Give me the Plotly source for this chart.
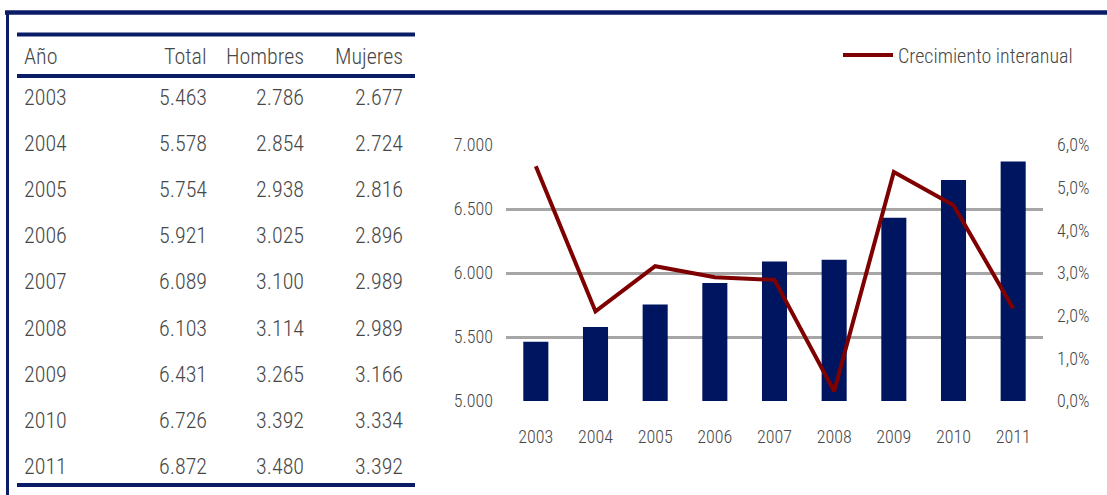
import plotly.graph_objects as go

# ---- data ----
years = ["2003", "2004", "2005", "2006", "2007", "2008", "2009", "2010", "2011"]
total = [5463, 5578, 5754, 5921, 6089, 6103, 6431, 6726, 6872]
hombres = [2786, 2854, 2938, 3025, 3100, 3114, 3265, 3392, 3480]
mujeres = [2677, 2724, 2816, 2896, 2989, 2989, 3166, 3334, 3392]
crecimiento = [0.055, 0.021, 0.0316, 0.029, 0.0284, 0.0023, 0.0537, 0.0459, 0.0217]
headers = ["Año", "Total", "Hombres", "Mujeres"]

W, H = 1107, 495
NAVY = "#0b1c66"
BAR = "#001560"
RED = "#7f0000"
TXT = "#474747"
FONT = "Roboto Condensed, Liberation Sans Narrow, Arial Narrow, sans-serif"


def py(p):
    return 1 - p / H


def px(p):
    return p / W


def fmt(v):
    return f"{v:,}".replace(",", ".")


fig = go.Figure()
fig.add_trace(go.Bar(x=years, y=total, marker=dict(color=BAR, line=dict(width=0)),
                     width=0.42, showlegend=False, yaxis="y"))
fig.add_trace(go.Scatter(x=years, y=crecimiento, mode="lines", name="Crecimiento interanual",
                         line=dict(color=RED, width=4), yaxis="y2"))

shapes = []
# outer frame
shapes.append(dict(type="line", xref="paper", yref="paper", x0=px(5), x1=1.0, y0=py(12.5), y1=py(12.5),
                   line=dict(color=NAVY, width=4.5)))
shapes.append(dict(type="line", xref="paper", yref="paper", x0=px(7.5), x1=px(7.5), y0=py(11), y1=0,
                   line=dict(color=NAVY, width=3)))
# table lines
for yy in (34.5, 76, 485):
    shapes.append(dict(type="line", xref="paper", yref="paper", x0=px(17), x1=px(415), y0=py(yy), y1=py(yy),
                       line=dict(color=NAVY, width=4)))

annotations = []
col_x = [22, 209, 306, 405]
col_anchor = ["left", "right", "right", "right"]
for i, h in enumerate(headers):
    annotations.append(dict(x=px(col_x[i]), y=py(56), xref="paper", yref="paper", text=h, showarrow=False,
                            xanchor=col_anchor[i], yanchor="middle",
                            font=dict(family=FONT, size=22, color=TXT, weight=300)))
row_y0, row_dy = 97, 46.2
for r, yr in enumerate(years):
    vals = [yr, fmt(total[r]), fmt(hombres[r]), fmt(mujeres[r])]
    for i, v in enumerate(vals):
        annotations.append(dict(x=px(col_x[i]), y=py(row_y0 + r * row_dy), xref="paper", yref="paper",
                                text=v, showarrow=False, xanchor=col_anchor[i], yanchor="middle",
                                font=dict(family=FONT, size=22, color=TXT, weight=300)))

tickfont = dict(family=FONT, size=18, color=TXT, weight=300)

fig.update_layout(
    width=W, height=H, autosize=False,
    margin=dict(l=0, r=0, t=0, b=0, pad=0, autoexpand=False),
    paper_bgcolor="white", plot_bgcolor="white",
    font=dict(family=FONT, size=18, color=TXT),
    bargap=0.6,
    xaxis=dict(domain=[px(506), px(1043)], showgrid=False, showline=False, ticks="", automargin=False,
               tickfont=tickfont, ticklabelstandoff=23, type="category"),
    yaxis=dict(domain=[py(401), py(145)], range=[5000, 7000], tickvals=[5000, 5500, 6000, 6500, 7000],
               ticktext=["5.000", "5.500", "6.000", "6.500", "7.000"], automargin=False,
               showgrid=True, gridcolor="#a6a6a6", gridwidth=3, zeroline=False, showline=False,
               ticks="", ticklabelstandoff=12, tickfont=tickfont),
    yaxis2=dict(overlaying="y", side="right", range=[0, 0.06], automargin=False,
                tickvals=[0, 0.01, 0.02, 0.03, 0.04, 0.05, 0.06],
                ticktext=["0,0%", "1,0%", "2,0%", "3,0%", "4,0%", "5,0%", "6,0%"],
                showgrid=False, zeroline=False, showline=False, ticks="", ticklabelstandoff=13,
                tickfont=tickfont),
    legend=dict(x=px(838), y=py(55), xanchor="left", yanchor="middle", bgcolor="rgba(0,0,0,0)",
                font=dict(family=FONT, size=20, color=TXT, weight=300), itemwidth=50),
    showlegend=True,
    shapes=shapes,
    annotations=annotations,
)

fig.write_html("out.html", config={"displayModeBar": False},
               post_script="document.body.style.margin='0px';")
